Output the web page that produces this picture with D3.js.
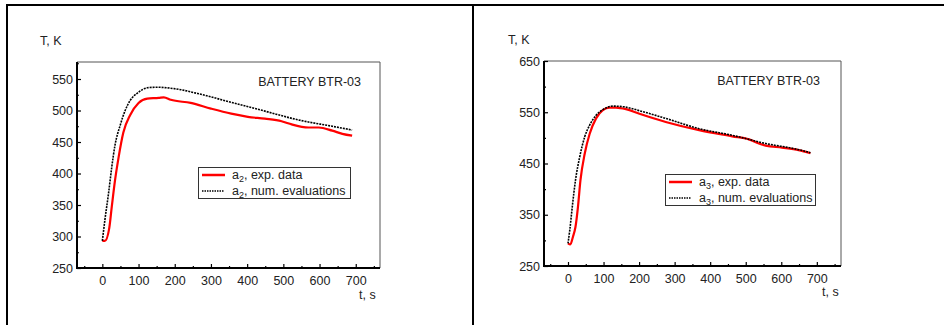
<!DOCTYPE html>
<html>
<head>
<meta charset="utf-8">
<script src="https://cdn.jsdelivr.net/npm/d3@7"></script>
<style>
  body { margin: 0; background: #fff; }
  svg text { font-family: "Liberation Sans", Arial, sans-serif; font-size: 12.5px; fill: #222; }
</style>
</head>
<body>
<svg id="chart" width="944" height="325"></svg>
<script>
// Panel a2 (left)
const tExpA2 = [0, 7, 19, 26, 35, 45, 58, 77, 100, 124, 156, 170, 189, 244, 300, 356, 402, 449, 495, 523, 551, 570, 598, 635, 663, 690];
const TExpA2 = [293, 293, 313, 347, 389, 426, 465, 493, 512, 519, 520, 521, 517, 512, 503, 495, 490, 487, 483, 478, 474, 473, 473, 468, 463, 460];
const tNumA2 = [0, 7, 17, 26, 35, 49, 63, 77, 100, 124, 152, 179, 217, 263, 356, 449, 542, 635, 690];
const TNumA2 = [293, 326, 368, 410, 445, 476, 500, 516, 529, 536, 537, 536, 533, 527, 513, 499, 485, 475, 469];

// Panel a3 (right)
const tExpA3 = [0, 6.5, 14, 21, 28, 35, 47, 61, 79, 98, 117, 135, 163, 201, 275, 369, 462, 509, 537, 556, 602, 649, 682];
const TExpA3 = [294, 292, 307, 326, 365, 417, 469, 508, 538, 554, 559, 559, 556, 547, 531, 515, 503, 497, 489, 485, 481, 476, 470];
const tNumA3 = [0, 5, 12, 21, 33, 47, 61, 79, 98, 126, 154, 201, 275, 369, 462, 556, 649, 682];
const TNumA3 = [294, 320, 365, 417, 463, 502, 525, 544, 555, 562, 561, 553, 538, 518, 505, 489, 477, 471];

const xMajor = [0, 100, 200, 300, 400, 500, 600, 700];
const xMinor = [-50, 50, 150, 250, 350, 450, 550, 650, 750];
const yMajorA2 = [250, 300, 350, 400, 450, 500, 550];
const yMinorA2 = [275, 325, 375, 425, 475, 525, 575];
const yMajorA3 = [250, 350, 450, 550, 650];
const yMinorA3 = [300, 400, 500, 600];

const svg = d3.select('#chart');

// outer frame
svg.append('line').attr('x1', 7).attr('x2', 944).attr('y1', 5).attr('y2', 5).attr('stroke', '#000').attr('stroke-width', 2);
svg.append('line').attr('x1', 7).attr('x2', 7).attr('y1', 4).attr('y2', 325).attr('stroke', '#000').attr('stroke-width', 2);
svg.append('line').attr('x1', 473).attr('x2', 473).attr('y1', 4).attr('y2', 325).attr('stroke', '#000').attr('stroke-width', 2);

function panel(p) {
  const x = d3.scaleLinear().domain(p.xDom).range([p.left, p.right]);
  const y = d3.scaleLinear().domain(p.yDom).range([p.bottom, p.top]);
  const g = svg.append('g');

  // top / right thin frame
  g.append('path')
    .attr('d', `M${p.left},${p.top}H${p.right}V${p.bottom}`)
    .attr('fill', 'none').attr('stroke', '#555').attr('stroke-width', 1);

  // y axis
  const yAx = g.append('g').attr('transform', `translate(${p.left},0)`)
    .call(d3.axisLeft(y).tickValues(p.yMajor).tickSize(-4).tickPadding(4).tickFormat(d3.format('d')));
  yAx.select('.domain').remove();
  yAx.selectAll('text').style('font-size', '12.5px').attr('fill', '#222');
  const yMin = g.append('g').attr('transform', `translate(${p.left},0)`)
    .call(d3.axisLeft(y).tickValues(p.yMinor).tickSize(-2).tickFormat(''));
  yMin.select('.domain').remove();

  // x axis
  const xAx = g.append('g').attr('transform', `translate(0,${p.bottom})`)
    .call(d3.axisBottom(x).tickValues(xMajor).tickSize(-4).tickPadding(8).tickFormat(d3.format('d')));
  xAx.select('.domain').remove();
  xAx.selectAll('text').style('font-size', '12.5px').attr('fill', '#222');
  const xMin = g.append('g').attr('transform', `translate(0,${p.bottom})`)
    .call(d3.axisBottom(x).tickValues(xMinor).tickSize(-2).tickFormat(''));
  xMin.select('.domain').remove();
  g.selectAll('.tick line').attr('stroke', '#000').attr('stroke-width', 1.2);

  // thick left / bottom
  g.append('path')
    .attr('d', `M${p.left},${p.top}V${p.bottom}H${p.right}`)
    .attr('fill', 'none').attr('stroke', '#000').attr('stroke-width', 2);

  const line = d3.line().x(d => x(d[0])).y(d => y(d[1])).curve(d3.curveMonotoneX);
  const exp = p.tExp.map((t, i) => [t, p.TExp[i]]);
  const num = p.tNum.map((t, i) => [t, p.TNum[i]]);
  g.append('path').datum(exp).attr('d', line)
    .attr('fill', 'none').attr('stroke', '#f00').attr('stroke-width', 2.2);
  g.append('path').datum(num).attr('d', line)
    .attr('fill', 'none').attr('stroke', '#000').attr('stroke-width', 1.6).attr('stroke-dasharray', '2,1');

  // labels
  g.append('text').attr('x', p.yLab[0]).attr('y', p.yLab[1]).text('T, K');
  g.append('text').attr('x', p.xLab[0]).attr('y', p.xLab[1]).text('t, s');
  g.append('text').attr('x', p.title[0]).attr('y', p.title[1]).attr('text-anchor', 'end').text('BATTERY BTR-03');

  // legend
  const [lx, ly, lw, lh] = p.legend;
  const lg = g.append('g').attr('transform', `translate(${lx},${ly})`);
  lg.append('rect').attr('x', 0.5).attr('y', 0.5).attr('width', lw).attr('height', lh)
    .attr('fill', '#fff').attr('stroke', '#333').attr('stroke-width', 1);
  lg.append('line').attr('x1', 4).attr('x2', 27).attr('y1', 8).attr('y2', 8)
    .attr('stroke', '#f00').attr('stroke-width', 2.5);
  lg.append('line').attr('x1', 4).attr('x2', 26).attr('y1', 24).attr('y2', 24)
    .attr('stroke', '#000').attr('stroke-width', 1.3).attr('stroke-dasharray', '1.5,1');
  const items = ['exp. data', 'num. evaluations'];
  items.forEach((s, i) => {
    const t = lg.append('text').attr('x', 34).attr('y', 12 + i * 16);
    t.append('tspan').text('a');
    t.append('tspan').attr('dy', 3).style('font-size', '9px').text(p.sub);
    t.append('tspan').attr('dy', -3).text(', ' + s);
  });
}

panel({
  left: 77, right: 380, top: 62, bottom: 268,
  xDom: [-70, 767], yDom: [250, 577],
  yMajor: yMajorA2, yMinor: yMinorA2,
  tExp: tExpA2, TExp: TExpA2, tNum: tNumA2, TNum: TNumA2,
  yLab: [40, 45], xLab: [359, 299], title: [361, 86],
  legend: [198, 167, 152, 31], sub: '2'
});

panel({
  left: 544, right: 841, top: 61, bottom: 266,
  xDom: [-67.5, 768], yDom: [250, 650],
  yMajor: yMajorA3, yMinor: yMinorA3,
  tExp: tExpA3, TExp: TExpA3, tNum: tNumA3, TNum: TNumA3,
  yLab: [508, 44], xLab: [822, 296], title: [820, 85],
  legend: [665, 174, 150, 31], sub: '3'
});
</script>
</body>
</html>
